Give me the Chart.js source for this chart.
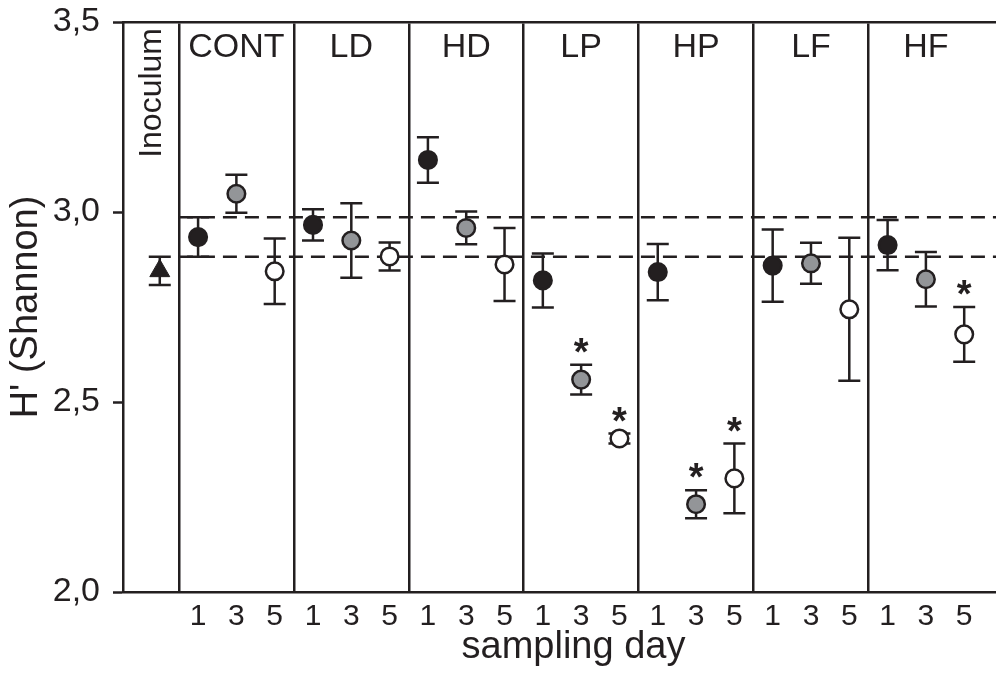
<!DOCTYPE html>
<html>
<head>
<meta charset="utf-8">
<script src="https://cdn.jsdelivr.net/npm/chart.js@4.4.0/dist/chart.umd.min.js"></script>
<style>
  html, body { margin: 0; padding: 0; background: #fff; }
  canvas { display: block; }
</style>
</head>
<body>
<canvas id="chart" width="996" height="674"></canvas>
<script>
const groups = ['CONT', 'LD', 'HD', 'LP', 'HP', 'LF', 'HF'];
const days = ['1', '3', '5'];

// mean H' and error for each treatment, one pair of arrays per sampling day
const day1Mean = [2.934, 2.966, 3.137, 2.820, 2.842, 2.859, 2.913];
const day1Err  = [0.052, 0.041, 0.060, 0.071, 0.074, 0.095, 0.066];
const day3Mean = [3.048, 2.925, 2.958, 2.559, 2.231, 2.865, 2.823];
const day3Err  = [0.050, 0.098, 0.043, 0.039, 0.037, 0.054, 0.072];
const day5Mean = [2.844, 2.883, 2.862, 2.404, 2.299, 2.744, 2.678];
const day5Err  = [0.086, 0.037, 0.096, 0.013, 0.092, 0.188, 0.072];

const inoculumMean = 2.845;
const inoculumErr = 0.037;

// control day-1 range, drawn as dashed lines across the treatments
const refLines = [2.986, 2.882];

// significant differences: [treatment, day]
const starred = [['LP', '3'], ['LP', '5'], ['HP', '3'], ['HP', '5'], ['HF', '5']];

const yTicks = [2.0, 2.5, 3.0, 3.5];

const INK = '#231f20';
const FONT = 'Liberation Sans, Arial, sans-serif';

// each treatment takes 3 x-units, the days sit in the middle of each unit
const dayX = (i, j) => 3 * i + j + 0.5;
const dividers = groups.map((g, i) => 3 * i);
const dayTicks = [];
groups.forEach((g, i) => days.forEach((d, j) => dayTicks.push(dayX(i, j))));

const X_MIN = -1.46, X_MAX = 21.33;

function series(means, errs, j) {
  return means.map((m, i) => ({ x: dayX(i, j), y: m, err: errs[i] }));
}
const day1 = series(day1Mean, day1Err, 0);
const day3 = series(day3Mean, day3Err, 1);
const day5 = series(day5Mean, day5Err, 2);

const decorations = {
  id: 'decorations',
  beforeDatasetsDraw(chart) {
    const { ctx, chartArea, scales: { x, y } } = chart;
    ctx.save();
    ctx.strokeStyle = INK;
    ctx.lineWidth = 2.5;

    // dashed reference lines
    ctx.setLineDash([14, 8]);
    refLines.forEach(v => {
      const py = y.getPixelForValue(v);
      ctx.beginPath();
      ctx.moveTo(x.getPixelForValue(0), py);
      ctx.lineTo(chartArea.right, py);
      ctx.stroke();
    });
    ctx.setLineDash([]);

    // error bars under the markers
    chart.data.datasets.forEach(ds => {
      ds.data.forEach(p => {
        const px = x.getPixelForValue(p.x);
        const top = y.getPixelForValue(p.y + p.err);
        const bot = y.getPixelForValue(p.y - p.err);
        ctx.beginPath();
        ctx.moveTo(px, top); ctx.lineTo(px, bot);
        ctx.moveTo(px - 11, top); ctx.lineTo(px + 11, top);
        ctx.moveTo(px - 11, bot); ctx.lineTo(px + 11, bot);
        ctx.stroke();
      });
    });
    ctx.restore();
  },
  afterDatasetsDraw(chart) {
    const { ctx, chartArea, scales: { x, y } } = chart;
    const all = [day1, day3, day5];
    ctx.save();
    ctx.fillStyle = INK;

    // asterisks above significant points
    ctx.font = 'bold 38px ' + FONT;
    ctx.textAlign = 'center';
    ctx.textBaseline = 'alphabetic';
    starred.forEach(([g, d]) => {
      const p = all[days.indexOf(d)][groups.indexOf(g)];
      const top = y.getPixelForValue(p.y + p.err);
      ctx.fillText('*', x.getPixelForValue(p.x), top - 21 + 0.56 * 38);
    });

    // treatment names
    ctx.font = '34px ' + FONT;
    ctx.textBaseline = 'middle';
    groups.forEach((g, i) => {
      ctx.fillText(g, x.getPixelForValue(3 * i + 1.5), chartArea.top + 25.5);
    });

    // inoculum label, rotated
    const inocX = (chartArea.left + x.getPixelForValue(0)) / 2;
    ctx.save();
    ctx.translate(inocX + 1, chartArea.top + 6);
    ctx.rotate(-Math.PI / 2);
    ctx.font = '32px ' + FONT;
    ctx.textAlign = 'right';
    ctx.textBaseline = 'middle';
    ctx.fillText('Inoculum', 0, 0);
    ctx.restore();

    // x axis title
    ctx.font = '38px ' + FONT;
    ctx.textAlign = 'center';
    ctx.textBaseline = 'alphabetic';
    ctx.fillText('sampling day', (chartArea.left + chartArea.right) / 2 + 14, 658);
    ctx.restore();
  }
};

const point = (bg, extra) => Object.assign({
  pointRadius: 8.8,
  pointHoverRadius: 8.8,
  pointBorderWidth: 2.5,
  pointBorderColor: INK,
  pointBackgroundColor: bg
}, extra);

new Chart(document.getElementById('chart'), {
  type: 'scatter',
  data: {
    datasets: [
      point(INK, { label: 'Inoculum', data: [{ x: -0.5, y: inoculumMean, err: inoculumErr }],
                   pointStyle: 'triangle', pointRadius: 11.5, pointHoverRadius: 11.5, pointBorderWidth: 1 }),
      point(INK, { label: 'Day 1', data: day1 }),
      point('#939598', { label: 'Day 3', data: day3 }),
      point('#ffffff', { label: 'Day 5', data: day5 })
    ]
  },
  options: {
    responsive: false,
    animation: false,
    devicePixelRatio: 1,
    layout: { padding: 0, autoPadding: false },
    plugins: { legend: { display: false }, tooltip: { enabled: false } },
    scales: {
      x: {
        type: 'linear',
        position: 'bottom',
        min: X_MIN,
        max: X_MAX,
        afterBuildTicks: s => { s.ticks = dayTicks.map(v => ({ value: v })); },
        afterFit: s => { s.height = 82; },
        ticks: {
          autoSkip: false,
          maxRotation: 0,
          padding: 7,
          color: INK,
          font: { family: FONT, size: 30 },
          callback: (v, i) => days[i % 3]
        },
        grid: { drawOnChartArea: false, drawTicks: false },
        border: { display: true, color: INK, width: 2.5 }
      },
      xTop: {
        type: 'linear',
        position: 'top',
        min: X_MIN,
        max: X_MAX,
        afterBuildTicks: s => { s.ticks = dividers.map(v => ({ value: v })); },
        afterFit: s => { s.height = 22; },
        ticks: { display: false },
        grid: { drawOnChartArea: true, drawTicks: false, color: INK, lineWidth: 2.5 },
        border: { display: true, color: INK, width: 2.5 }
      },
      y: {
        min: 2,
        max: 3.5,
        afterBuildTicks: s => { s.ticks = yTicks.map(v => ({ value: v })); },
        afterFit: s => {
          s.width = 123;
          // keep the tick labels from pushing the plot area down
          s.paddingTop = 0;
          s.paddingBottom = 0;
        },
        ticks: {
          padding: 13,
          color: INK,
          font: { family: FONT, size: 34 },
          callback: v => v.toFixed(1).replace('.', ',')
        },
        grid: { drawOnChartArea: false, drawTicks: true, tickLength: 10, tickColor: INK, tickWidth: 2.5 },
        border: { display: true, color: INK, width: 2.5 },
        title: {
          display: true,
          text: "H' (Shannon)",
          color: INK,
          font: { family: FONT, size: 38 },
          padding: { top: 4, bottom: 0 }
        }
      }
    }
  },
  plugins: [decorations]
});
</script>
</body>
</html>
